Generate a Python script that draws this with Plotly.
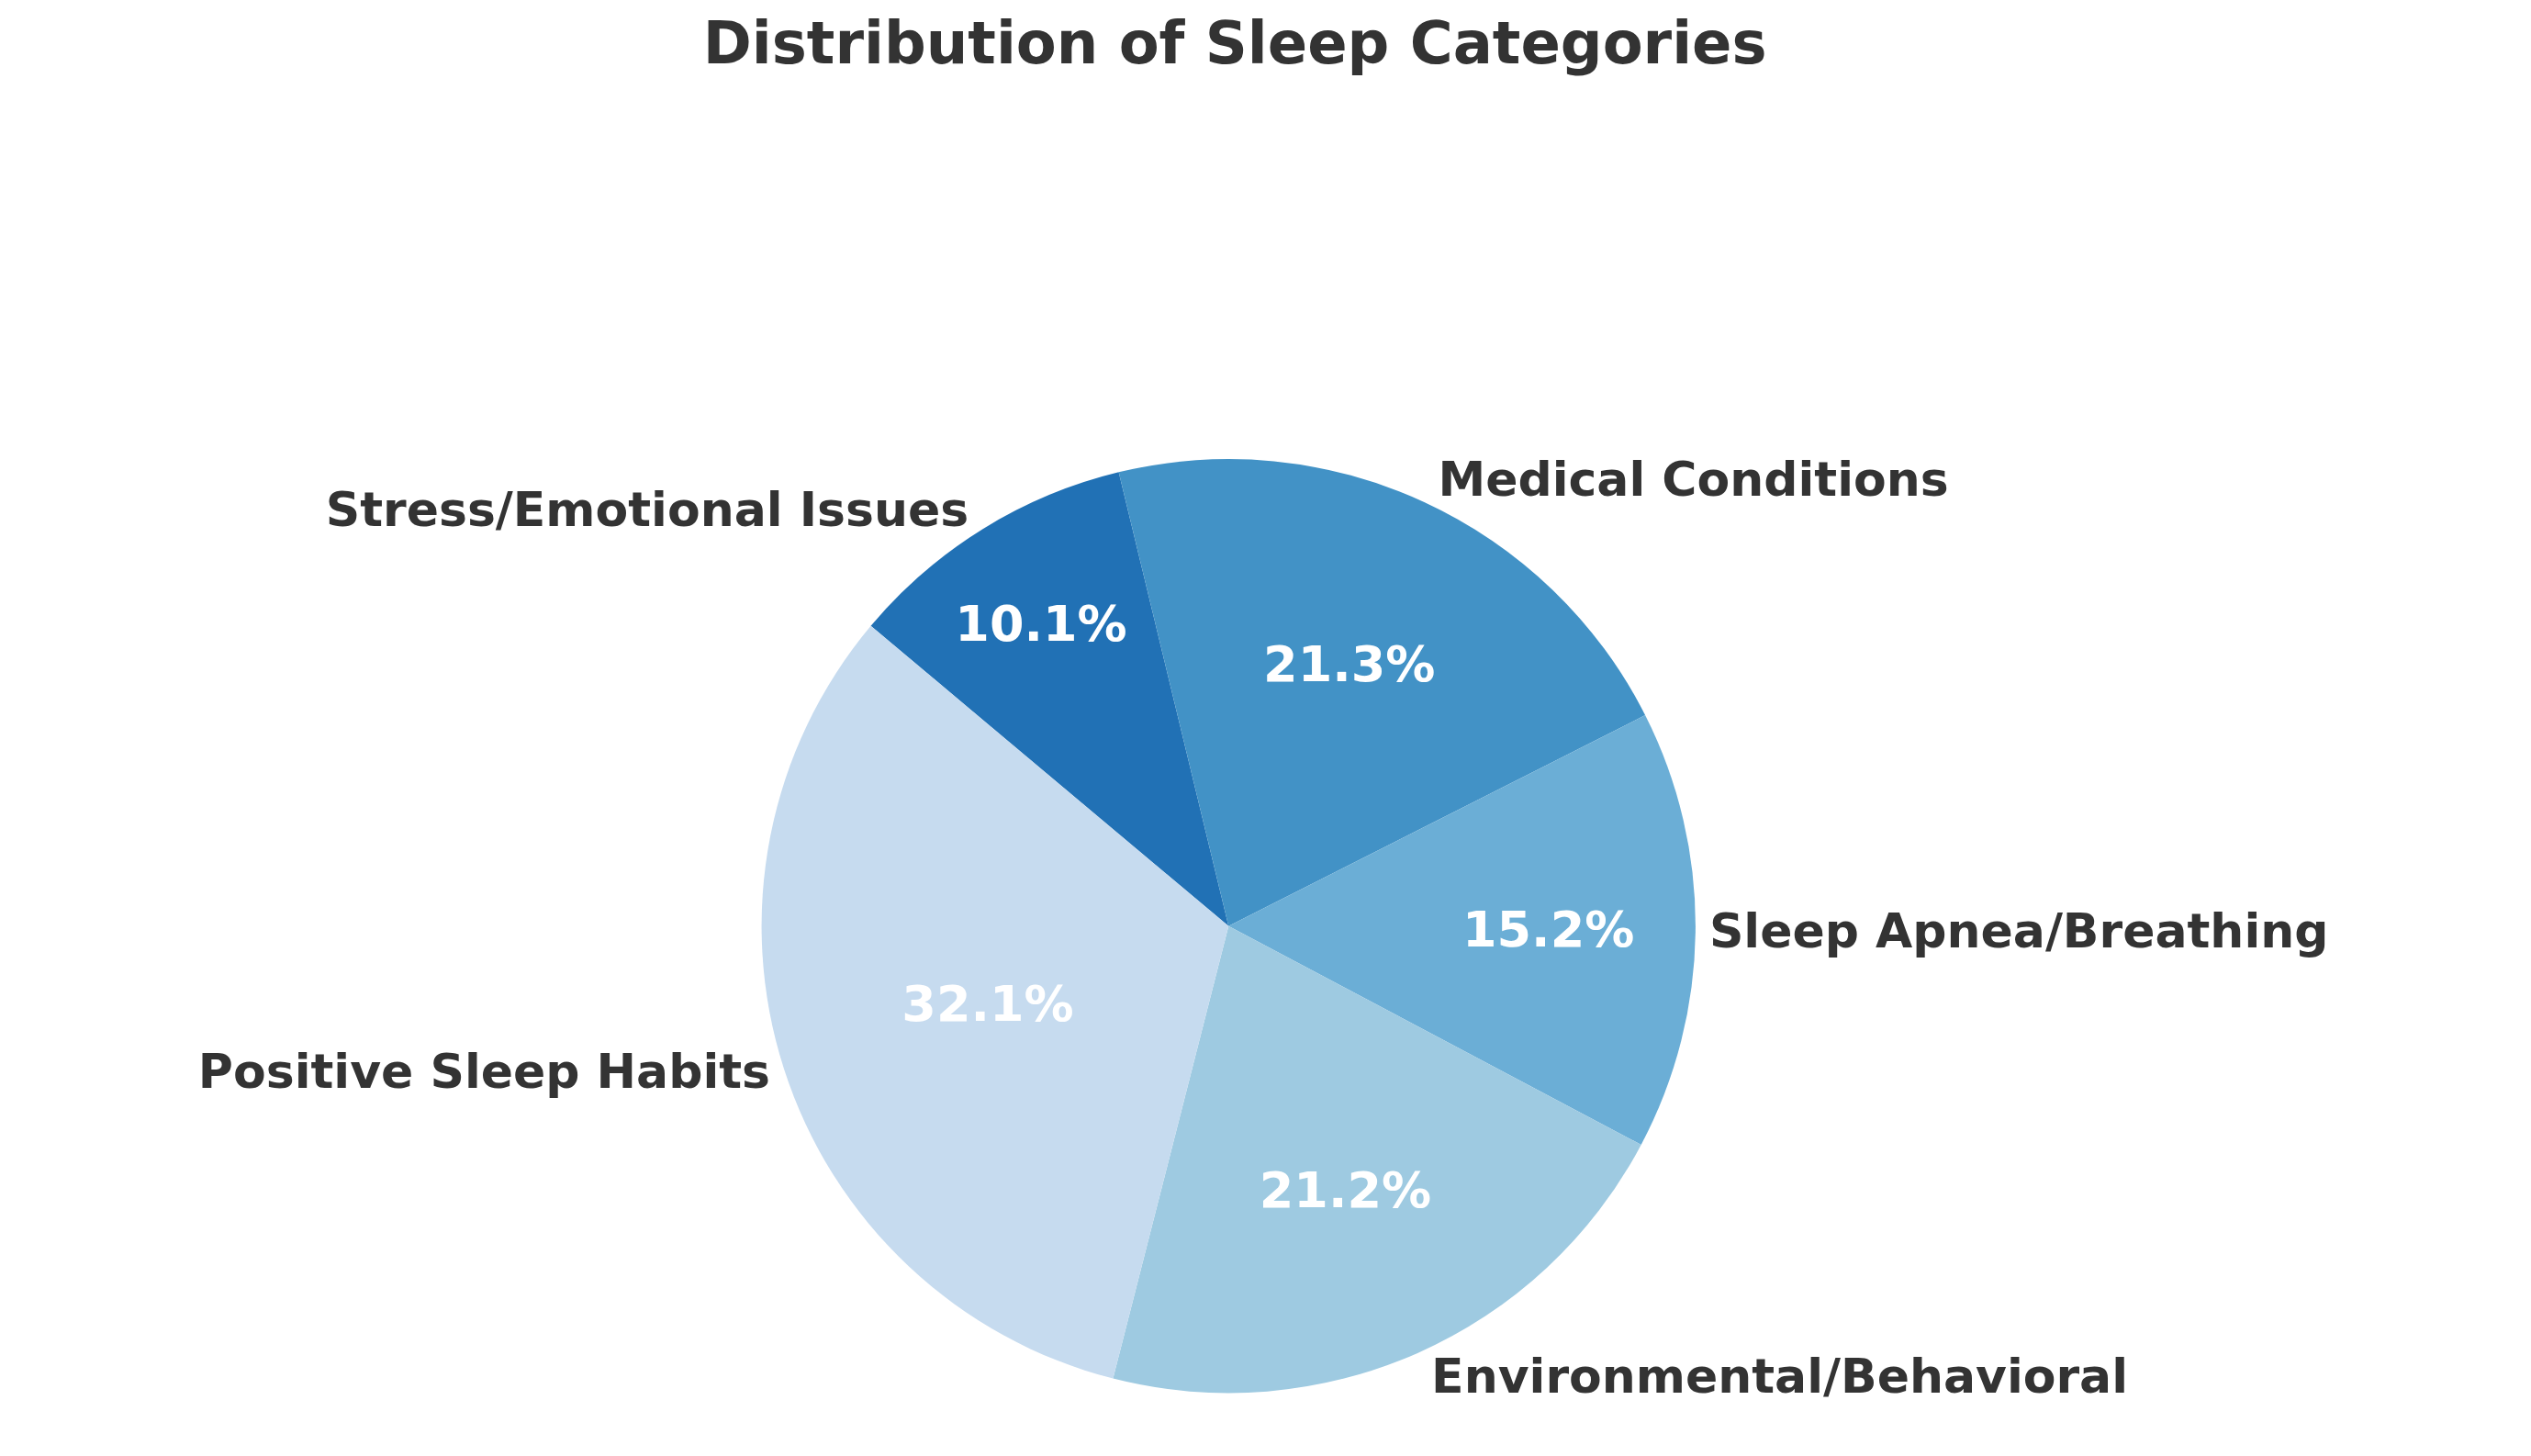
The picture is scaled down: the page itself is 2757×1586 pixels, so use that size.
import plotly.graph_objects as go

categories = ["Stress/Emotional Issues", "Medical Conditions", "Sleep Apnea/Breathing",
              "Environmental/Behavioral", "Positive Sleep Habits"]
values = [10.1, 21.3, 15.2, 21.2, 32.1]
colors = ["#2171b5", "#4292c6", "#6baed6", "#9ecae1", "#c6dbef"]

dom = dict(x=[0.298, 0.667], y=[0.048, 0.69])
common = dict(labels=categories, values=values, sort=False, direction="clockwise",
              rotation=-50, domain=dom, showlegend=False, hoverinfo="skip")

fig = go.Figure()
fig.add_trace(go.Pie(**common, marker=dict(colors=colors, line=dict(width=0)),
                     texttemplate="%{percent:.1%}", textposition="inside",
                     insidetextorientation="horizontal",
                     textfont=dict(family="DejaVu Sans", size=54, color="white", weight="bold")))
fig.add_trace(go.Pie(**common, marker=dict(colors=["rgba(0,0,0,0)"] * 5, line=dict(width=0)),
                     texttemplate="%{label}", textposition="outside",
                     outsidetextfont=dict(family="DejaVu Sans", size=52, color="#333333", weight="bold")))
fig.update_layout(
    width=2757, height=1586, paper_bgcolor="white", plot_bgcolor="white",
    margin=dict(l=0, r=0, t=0, b=0),
    title=dict(text="Distribution of Sleep Categories", x=0.485, xanchor="center", y=0.99, yanchor="top",
               font=dict(family="DejaVu Sans", size=64, color="#333333", weight="bold")),
)
fig.write_html("out.html")
